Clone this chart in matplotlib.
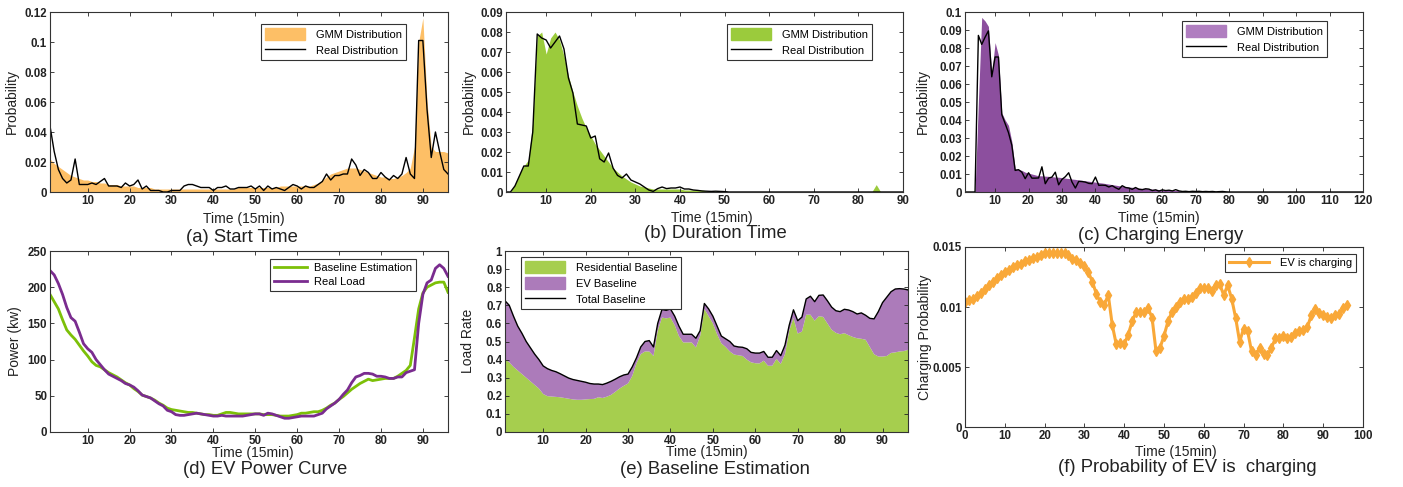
import numpy as np
import matplotlib
matplotlib.use("Agg")
import matplotlib.pyplot as plt
from matplotlib.ticker import FuncFormatter
from matplotlib.patches import Patch
from matplotlib.lines import Line2D

plt.rcParams['font.family'] = ['Liberation Sans', 'DejaVu Sans']

# ---------------- data ----------------
# (a) start time, slots 1..96
a_x = list(range(1, 97))
a_real = [.044, .027, .015, .009, .006, .008, .022, .005, .005, .005,
          .006, .005, .007, .009, .004, .004, .004, .003, .006, .004,
          .005, .008, .002, .004, .001, .001, .001, .000, .000, .001,
          .001, .001, .004, .005, .005, .004, .003, .003, .003, .001,
          .003, .003, .004, .002, .002, .003, .003, .003, .004, .002,
          .004, .001, .004, .002, .003, .002, .001, .003, .005, .004,
          .002, .004, .003, .003, .005, .007, .012, .008, .011, .011,
          .012, .012, .022, .018, .011, .015, .013, .009, .009, .013,
          .010, .008, .011, .009, .012, .023, .012, .009, .101, .101,
          .055, .023, .040, .027, .015, .012]
a_gmm = [.022, .019, .017, .015, .013, .011, .010, .009, .008, .008,
         .007, .007, .006, .006, .005, .005, .005, .004, .004, .004,
         .004, .003, .003, .003, .003, .002, .002, .002, .002, .002,
         .002, .002, .002, .002, .002, .002, .002, .002, .002, .002,
         .002, .002, .002, .002, .002, .003, .003, .003, .003, .003,
         .003, .003, .003, .003, .003, .004, .004, .004, .004, .004,
         .004, .004, .004, .005, .006, .008, .010, .012, .013, .014,
         .015, .016, .016, .016, .015, .014, .013, .012, .011, .010,
         .010, .009, .009, .010, .011, .013, .016, .030, .100, .116,
         .060, .030, .027, .027, .027, .026]

# (b) duration time, slots 1..90
b_x = list(range(1, 91))
b_real = [0, 0, .003, .008, .013, .013, .030, .079, .077, .076,
          .072, .075, .078, .0715, .057, .0495, .034, .0335, .033, .027,
          .028, .0166, .015, .0195, .012, .0083, .007, .009, .006, .005,
          .004, .0025, .001, .0003, .0017, .0025, .0017, .002, .002, .0025,
          .0015, .0015, .001, .0008, .0005, .0004, .0003, .0004, .0003, .0002] + [0] * 40
b_gmm = [0, 0, .004, .009, .013, .016, .035, .078, .080, .069,
         .077, .080, .076, .068, .058, .050, .043, .037, .032, .028,
         .024, .021, .018, .015, .012, .010, .008, .0065, .005, .004,
         .003, .0025, .002, .0015, .0015, .0015, .0015, .0015, .0015, .0015,
         .001, .001, .001, .001, .001, .0005, .0005, .0005, .0005, .0005] + \
        [0] * 32 + [0, .0037, 0, 0, 0, 0, 0, 0]

# (c) charging energy, 1..120
c_x = list(range(1, 121))
c_real = [0, 0, 0, 0, .087, .082, .086, .0895, .064, .075,
          .075, .043, .038, .033, .026, .012, .0124, .011, .0074, .0107,
          .0077, .0077, .0078, .014, .0046, .0077, .0083, .011, .004, .007,
          .0085, .0107, .0055, .0022, .0059, .0058, .0055, .0048, .0046, .0083,
          .0037, .0038, .0037, .0028, .0035, .0024, .0015, .0035, .0025, .0022,
          .0015, .0025, .0015, .0013, .0018, .0016, .0008, .0012, .0005, .0012,
          .0008, .0010, .0006, .0013, .0006, .0003, .0004, .0002, .0004, .0003,
          .0004, .0002, .0003, .0002, .0003, .0001, .0002, .0003, .0001, 0] + [0] * 40
c_gmm = [0, 0, 0, 0, .050, .097, .095, .092, .066, .083,
         .076, .044, .040, .037, .028, .013, .0125, .012, .011, .0105,
         .010, .0095, .009, .009, .0088, .0087, .0085, .0083, .0082, .008,
         .0077, .0075, .0072, .007, .0067, .0065, .0062, .006, .0057, .0055,
         .0052, .005, .0047, .0044, .0041, .0038, .0035, .0033, .003, .0028,
         .0026, .0024, .0022, .002, .0019, .0018, .0016, .0015, .0014, .0013,
         .0012, .0011, .001, .0009, .0008, .0007, .0006, .0006, .0005, .0005,
         .0004, .0004, .0003, .0003, .0003, .0003, .0003, .0003, .0003, .0003,
         .0002, .0002, .0002, .0002, .0002, .0002, .0002, .0002, .0002, .0002,
         .0001, .0001, .0001, .0001, .0001, .0001, .0001, .0001, .0001, .0001] + [0] * 20

# (d) EV power curve (kW), slots 1..96
d_x = list(range(1, 97))
d_base = [190, 180, 170, 155, 141, 134, 128, 120, 112, 105,
          97, 92, 90, 86, 82, 79, 76, 72, 68, 65,
          60, 56, 51, 49, 47, 44, 40, 37, 33, 31,
          30, 29, 28, 27, 27, 26, 25, 24, 24, 23,
          23, 25, 27, 27, 26, 25, 25, 25, 25, 25,
          25, 24, 24, 24, 23, 22, 22, 22, 23, 24,
          26, 26, 27, 28, 28, 30, 33, 37, 40, 45,
          49, 54, 59, 63, 67, 70, 73, 71, 72, 73,
          74, 74, 74, 77, 81, 85, 92, 130, 170, 192,
          200, 203, 206, 207, 207, 193]
d_real = [223, 217, 205, 190, 172, 158, 153, 138, 122, 115,
          110, 100, 93, 86, 80, 77, 74, 71, 67, 65,
          62, 57, 51, 49, 47, 43, 39, 36, 30, 28,
          24, 23, 23, 24, 25, 26, 25, 24, 23, 22,
          22, 23, 22, 22, 22, 22, 22, 23, 24, 25,
          25, 23, 26, 25, 23, 21, 19, 19, 20, 21,
          22, 22, 22, 22, 24, 26, 32, 36, 40, 45,
          52, 58, 68, 76, 78, 81, 81, 80, 77, 77,
          76, 74, 74, 76, 76, 82, 84, 86, 150, 190,
          206, 210, 226, 231, 226, 215]

# (e) baseline estimation (load rate), slots 1..96
e_x = list(range(1, 97))
e_res = [.402, .385, .360, .340, .320, .300, .280, .260, .240, .210,
         .198, .196, .194, .192, .188, .184, .180, .178, .178, .180,
         .182, .183, .192, .188, .195, .205, .222, .240, .255, .268,
         .310, .380, .430, .445, .445, .420, .560, .632, .628, .632,
         .590, .530, .495, .495, .495, .467, .530, .680, .640, .600,
         .540, .490, .470, .445, .428, .424, .420, .400, .385, .380,
         .379, .394, .366, .366, .404, .376, .430, .560, .630, .544,
         .555, .648, .648, .615, .640, .636, .600, .565, .548, .540,
         .546, .535, .525, .518, .515, .510, .470, .430, .417, .417,
         .420, .437, .440, .445, .447, .454]
e_total = [.725, .700, .640, .585, .545, .500, .465, .430, .400, .365,
           .350, .340, .333, .322, .310, .298, .290, .285, .280, .275,
           .268, .265, .265, .262, .270, .280, .292, .305, .315, .320,
           .360, .410, .470, .500, .505, .470, .600, .677, .672, .680,
           .640, .585, .540, .540, .540, .518, .560, .710, .680, .640,
           .585, .530, .515, .500, .475, .470, .468, .460, .440, .436,
           .436, .445, .413, .413, .450, .422, .480, .590, .675, .615,
           .635, .735, .750, .720, .755, .757, .725, .690, .670, .665,
           .678, .674, .665, .652, .658, .645, .628, .625, .665, .715,
           .745, .775, .790, .792, .790, .785]

# (f) probability of EV is charging, slots 0..96
f_x = list(range(0, 97))
f_prob = [.01044, .01055, .0107, .0109, .0112, .0115, .0118, .0121, .0124, .0127,
          .0129, .0131, .0133, .0135, .0136, .0138, .0139, .0141, .0142, .0143,
          .0145, .0145, .0145, .0145, .0145, .0145, .0143, .0140, .0139, .0137,
          .0134, .0129, .0121, .0111, .0104, .0102, .0110, .0085, .0069, .0070,
          .0069, .0077, .0088, .0096, .0096, .0096, .0099, .0091, .0063, .0066,
          .0076, .0088, .0096, .0100, .0104, .0107, .0107, .0108, .0112, .0116,
          .0116, .0116, .0113, .0118, .0119, .0110, .0118, .0107, .0091, .0071,
          .0082, .0080, .0063, .0060, .0066, .0061, .0060, .0066, .0074, .0074,
          .0076, .0074, .0075, .0078, .0080, .0081, .0083, .0093, .0098, .0095,
          .0093, .0092, .0091, .0093, .0094, .0099, .0102]

# ---------------- layout ----------------
W, H = 1403, 487
fig = plt.figure(figsize=(W / 100, H / 100), dpi=100)


def add_ax(l, r, t, b):
    return fig.add_axes([l / W, 1 - b / H, (r - l) / W, (b - t) / H])


def ftext(x, y, s, **kw):
    fig.text(x / W, 1 - y / H, s, ha='center', va='center', color='#222222', **kw)


def style(ax):
    ax.tick_params(direction='in', length=3, width=0.6, top=True, right=True,
                   labelsize=8.3, pad=2, colors='#222222')
    for lab in ax.get_xticklabels() + ax.get_yticklabels():
        lab.set_fontweight('bold')
    for sp in ax.spines.values():
        sp.set_linewidth(0.8)
        sp.set_color('#333333')


gfmt = FuncFormatter(lambda v, p: ('%g' % round(v, 6)))

ORANGE = '#FDBF66'
GREEN_B = '#9BCB3C'
PURPLE_C = '#8C4F9E'
GREEN_D = '#7CC008'
PURPLE_D = '#7A2C8F'
GREEN_E = '#A6CE4E'
PURPLE_E = '#AC7BBA'
ORANGE_F = '#F9A838'

leg_kw = dict(fontsize=8, frameon=True, fancybox=False, borderaxespad=0,
              framealpha=1, edgecolor='#333333', borderpad=0.35,
              handlelength=3.6, handletextpad=1.0, labelspacing=0.35)

# (a)
ax = add_ax(50, 448, 12, 192)
ax.fill_between(a_x, 0, a_gmm, color=ORANGE, lw=0)
ax.plot(a_x, a_real, color='black', lw=1.0)
ax.set_xlim(1, 96)
ax.set_ylim(0, 0.12)
ax.set_xticks(range(10, 91, 10))
ax.set_yticks(np.arange(0, 0.121, 0.02))
ax.yaxis.set_major_formatter(gfmt)
style(ax)
lg = ax.legend([Patch(color=ORANGE), Line2D([], [], color='black', lw=1.0)],
               ['GMM Distribution', 'Real Distribution'], loc='upper right',
               bbox_to_anchor=(0.894, 0.933), handleheight=1.3, **leg_kw)
lg.get_frame().set_linewidth(0.8)
ftext(244, 219, 'Time (15min)', fontsize=10)
ftext(242, 237, '(a) Start Time', fontsize=13.3)
ftext(12, 102, 'Probability', fontsize=10, rotation=90)

# (b)
ax = add_ax(506, 903, 12, 192)
ax.fill_between(b_x, 0, b_gmm, color=GREEN_B, lw=0)
ax.plot(b_x, b_real, color='black', lw=1.0)
ax.set_xlim(1, 90)
ax.set_ylim(0, 0.09)
ax.set_xticks(range(10, 91, 10))
ax.set_yticks(np.arange(0, 0.0901, 0.01))
ax.yaxis.set_major_formatter(gfmt)
style(ax)
lg = ax.legend([Patch(color=GREEN_B), Line2D([], [], color='black', lw=1.0)],
               ['GMM Distribution', 'Real Distribution'], loc='upper right',
               bbox_to_anchor=(0.922, 0.933), handleheight=1.3, **leg_kw)
lg.get_frame().set_linewidth(0.8)
ftext(712, 218, 'Time (15min)', fontsize=10)
ftext(715, 234, '(b) Duration Time', fontsize=13.3)
ftext(469, 102, 'Probability', fontsize=10, rotation=90)

# (c)
ax = add_ax(965, 1363, 12, 192)
ax.fill_between(c_x, 0, c_gmm, color=PURPLE_C, lw=0)
ax.plot(c_x, c_real, color='black', lw=1.0)
ax.set_xlim(1, 120)
ax.set_ylim(0, 0.1)
ax.set_xticks(range(10, 121, 10))
ax.set_yticks(np.arange(0, 0.1001, 0.01))
ax.yaxis.set_major_formatter(gfmt)
style(ax)
lg = ax.legend([Patch(color='#B07EC0'), Line2D([], [], color='black', lw=1.0)],
               ['GMM Distribution', 'Real Distribution'], loc='upper right',
               bbox_to_anchor=(0.91, 0.95), handleheight=1.3, **leg_kw)
lg.get_frame().set_linewidth(0.8)
ftext(1159, 218, 'Time (15min)', fontsize=10)
ftext(1161, 235, '(c) Charging Energy', fontsize=13.3)
ftext(923, 102, 'Probability', fontsize=10, rotation=90)

# (d)
ax = add_ax(50, 448, 251, 432)
ax.plot(d_x, d_base, color=GREEN_D, lw=2.0, label='Baseline Estimation')
ax.plot(d_x, d_real, color=PURPLE_D, lw=2.0, label='Real Load')
ax.set_xlim(1, 96)
ax.set_ylim(0, 250)
ax.set_xticks(range(10, 91, 10))
ax.set_yticks(range(0, 251, 50))
style(ax)
lg = ax.legend(loc='upper right', bbox_to_anchor=(0.92, 0.956),
               **{**leg_kw, 'handlelength': 3.0, 'handletextpad': 0.6})
lg.get_frame().set_linewidth(0.8)
ftext(253, 453, 'Time (15min)', fontsize=10)
ftext(265, 470, '(d) EV Power Curve', fontsize=13.3)
ftext(15, 341, 'Power (kw)', fontsize=10, rotation=90)

# (e)
e_ev = [t - r for t, r in zip(e_total, e_res)]
ax = add_ax(505, 908, 251, 432)
ax.stackplot(e_x, e_res, e_ev, colors=[GREEN_E, PURPLE_E], lw=0)
ax.plot(e_x, e_total, color='black', lw=1.0)
ax.set_xlim(1, 96)
ax.set_ylim(0, 1)
ax.set_xticks(range(10, 91, 10))
ax.set_yticks(np.arange(0, 1.01, 0.1))
ax.yaxis.set_major_formatter(gfmt)
style(ax)
lg = ax.legend([Patch(color=GREEN_E), Patch(color=PURPLE_E),
                Line2D([], [], color='black', lw=1.0)],
               ['Residential Baseline', 'EV Baseline', 'Total Baseline'],
               loc='upper left', bbox_to_anchor=(0.04, 0.967), handleheight=1.3,
               **leg_kw)
lg.get_frame().set_linewidth(0.8)
ftext(707, 452, 'Time (15min)', fontsize=10)
ftext(715, 469, '(e) Baseline Estimation', fontsize=13.3)
ftext(468, 341, 'Load Rate', fontsize=10, rotation=90)

# (f)
ax = add_ax(965, 1363, 247, 427)
ax.plot(f_x, f_prob, color=ORANGE_F, lw=2.2, marker='d', markersize=5.5,
        label='EV is charging')
ax.set_xlim(0, 100)
ax.set_ylim(0, 0.015)
ax.set_xticks(range(0, 101, 10))
ax.set_yticks([0, 0.005, 0.01, 0.015])
ax.yaxis.set_major_formatter(gfmt)
style(ax)
lg = ax.legend(loc='upper right', bbox_to_anchor=(0.982, 0.961), **leg_kw)
lg.get_frame().set_linewidth(0.8)
ftext(1176, 452, 'Time (15min)', fontsize=10)
ftext(1187, 468, '(f) Probability of EV is  charging', fontsize=13.3)
ftext(925, 337, 'Charging Probability', fontsize=10, rotation=90)

fig.savefig('out.png', dpi=100)
